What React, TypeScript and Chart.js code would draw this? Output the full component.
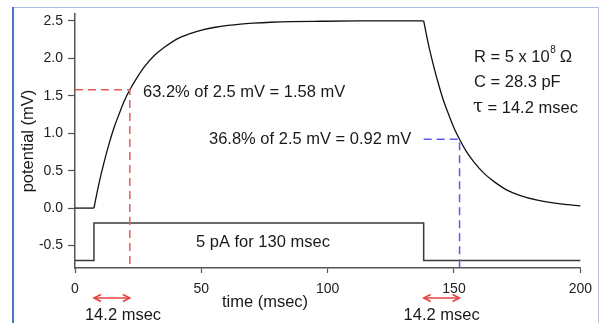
import React, { useEffect, useRef } from "react";
import { Chart, registerables } from "chart.js";

Chart.register(...registerables);

// ---- data ----
const restTime = [0, 7.5];
const restV = [0, 0];

const riseTime = [7.5, 9.5, 11.5, 13.5, 15.5, 17.5, 19.5, 21.7, 24.5, 27.5, 31.5, 35.5, 40.5, 45.5, 50.5, 55.5, 60.5, 65.5, 70.5, 77.5, 85.5, 97.5, 112, 138];
const riseV = [0, 0.33, 0.61, 0.86, 1.08, 1.26, 1.43, 1.58, 1.74, 1.89, 2.04, 2.15, 2.26, 2.33, 2.379, 2.415, 2.44, 2.458, 2.47, 2.482, 2.49, 2.495, 2.499, 2.5];

const decayTime = [138, 140, 142, 144, 146, 148, 150, 152.2, 155, 158, 162, 166, 171, 176, 183, 193, 200];
const decayV = [2.5, 2.17, 1.89, 1.64, 1.42, 1.24, 1.07, 0.92, 0.75, 0.61, 0.46, 0.35, 0.24, 0.17, 0.105, 0.052, 0.03];

const stepTime = [0, 7.5, 7.5, 138, 138, 200];
const stepLevel = [-0.7, -0.7, -0.2, -0.2, -0.7, -0.7];

const redGuideTime = [0, 21.7, 21.7];
const redGuideV = [1.58, 1.58, -0.8];
const blueGuideTime = [138, 152.2, 152.2];
const blueGuideV = [0.92, 0.92, -0.8];

const yTickValues = [-0.5, 0, 0.5, 1.0, 1.5, 2.0, 2.5];
const xTickValues = [0, 50, 100, 150, 200];

const tauSpans = [
  [7.5, 21.7],
  [138, 152.2],
];

const pts = (xs: number[], ys: number[]) => xs.map((x, i) => ({ x, y: ys[i] }));

const FONT = "'Liberation Sans', Arial, sans-serif";

const annotationPlugin = {
  id: "annots",
  afterDraw(chart: any) {
    const ctx = chart.ctx as CanvasRenderingContext2D;
    const xs = chart.scales.x;
    ctx.save();
    ctx.fillStyle = "#1a1a1a";
    ctx.textBaseline = "middle";

    const txt = (s: string, x: number, y: number, size = 16.5, align: CanvasTextAlign = "left") => {
      ctx.font = `${size}px ${FONT}`;
      ctx.textAlign = align;
      ctx.fillText(s, x, y);
    };

    txt("63.2% of 2.5 mV = 1.58 mV", 143, 92);
    txt("36.8% of 2.5 mV = 0.92 mV", 209, 139);
    txt("5 pA for 130 msec", 196, 242);

    // R, C, tau box
    ctx.font = `16.5px ${FONT}`;
    ctx.textAlign = "left";
    const r1 = "R = 5 x 10";
    ctx.fillText(r1, 474, 57);
    const w1 = ctx.measureText(r1).width;
    ctx.font = `10px ${FONT}`;
    ctx.fillText("8", 474 + w1 + 0.5, 50);
    ctx.font = `16.5px ${FONT}`;
    ctx.fillText("\u03A9", 474 + w1 + 10, 57);
    txt("C = 28.3 pF", 474, 82);
    ctx.font = `18px 'DejaVu Serif', serif`;
    ctx.fillText("\u03C4", 473, 107);
    const wt = ctx.measureText("\u03C4").width;
    txt(" = 14.2 msec", 473 + wt, 108);

    // axis titles
    txt("time (msec)", 265, 302, 16.5, "center");
    ctx.save();
    ctx.translate(28, 141);
    ctx.rotate(-Math.PI / 2);
    txt("potential (mV)", 0, 0, 16.5, "center");
    ctx.restore();

    // tau arrows
    const ay = 298;
    ctx.strokeStyle = "#e84040";
    ctx.lineWidth = 1.5;
    for (const [a, b] of tauSpans) {
      const x1 = xs.getPixelForValue(a);
      const x2 = xs.getPixelForValue(b);
      ctx.beginPath();
      ctx.moveTo(x1 + 1, ay);
      ctx.lineTo(x2 - 1, ay);
      ctx.stroke();
      ctx.beginPath();
      ctx.moveTo(x1 + 7, ay - 3.5);
      ctx.lineTo(x1, ay);
      ctx.lineTo(x1 + 7, ay + 3.5);
      ctx.moveTo(x2 - 7, ay - 3.5);
      ctx.lineTo(x2, ay);
      ctx.lineTo(x2 - 7, ay + 3.5);
      ctx.stroke();
    }
    ctx.fillStyle = "#1a1a1a";
    txt("14.2 msec", 123, 315, 16.5, "center");
    txt("14.2 msec", (xs.getPixelForValue(tauSpans[1][0]) + xs.getPixelForValue(tauSpans[1][1])) / 2, 315, 16.5, "center");

    // frame
    ctx.lineWidth = 1;
    ctx.strokeStyle = "#a9bfe0";
    ctx.beginPath();
    ctx.moveTo(13, 7.5);
    ctx.lineTo(598, 7.5);
    ctx.stroke();
    ctx.strokeStyle = "#b8c2d6";
    ctx.beginPath();
    ctx.moveTo(598.5, 7);
    ctx.lineTo(598.5, 323);
    ctx.stroke();
    ctx.strokeStyle = "#4676c4";
    ctx.lineWidth = 2;
    ctx.beginPath();
    ctx.moveTo(13, 7);
    ctx.lineTo(13, 323);
    ctx.stroke();
    ctx.restore();
  },
};

export default function App() {
  const ref = useRef<HTMLCanvasElement | null>(null);

  useEffect(() => {
    if (!ref.current) return;
    const line = (data: any[], color: string, width: number, extra: any = {}) => ({
      data,
      borderColor: color,
      borderWidth: width,
      pointRadius: 0,
      fill: false,
      clip: false,
      ...extra,
    });
    const chart = new Chart(ref.current, {
      type: "line",
      data: {
        datasets: [
          line(pts(redGuideTime, redGuideV), "#e85a5a", 1.5, { borderDash: [8, 5] }),
          line(pts(blueGuideTime, blueGuideV), "#5a5af0", 1.5, { borderDash: [8, 5] }),
          line(pts(stepTime, stepLevel), "#3a3a3a", 1.5),
          line(pts(restTime, restV), "#111", 1.3),
          line(pts(riseTime, riseV), "#111", 1.3, { cubicInterpolationMode: "monotone" }),
          line(pts(decayTime, decayV), "#111", 1.3, { cubicInterpolationMode: "monotone" }),
        ],
      },
      options: {
        animation: false,
        responsive: false,
        devicePixelRatio: 1,
        layout: { padding: { top: 13, right: 18, left: 0, bottom: 0 } },
        plugins: { legend: { display: false }, tooltip: { enabled: false } },
        scales: {
          x: {
            type: "linear",
            min: 0,
            max: 200,
            afterFit: (s: any) => {
              s.height = 55;
            },
            afterBuildTicks: (s: any) => {
              s.ticks = xTickValues.map((v) => ({ value: v }));
            },
            grid: { drawOnChartArea: false, tickLength: 5, color: "#555", tickWidth: 1.2 },
            border: { color: "#555", width: 1.5 },
            ticks: {
              color: "#222",
              font: { size: 14, family: FONT },
              padding: 8,
              maxRotation: 0,
              callback: (v: any) => String(v),
            },
          },
          y: {
            type: "linear",
            min: -0.8,
            max: 2.6,
            afterFit: (s: any) => {
              s.width = 75;
            },
            afterBuildTicks: (s: any) => {
              s.ticks = yTickValues.map((v) => ({ value: v }));
            },
            grid: { drawOnChartArea: false, tickLength: 7, color: "#555", tickWidth: 1.2 },
            border: { color: "#555", width: 1.5 },
            ticks: {
              color: "#222",
              font: { size: 14, family: FONT },
              padding: 5,
              callback: (v: any) => Number(v).toFixed(1),
            },
          },
        },
      },
      plugins: [annotationPlugin],
    });
    return () => chart.destroy();
  }, []);

  return (
    <div style={{ position: "absolute", left: 0, top: 0, width: 600, height: 323, background: "#fff" }}>
      <canvas ref={ref} width={600} height={323} style={{ width: 600, height: 323, display: "block" }} />
    </div>
  );
}
